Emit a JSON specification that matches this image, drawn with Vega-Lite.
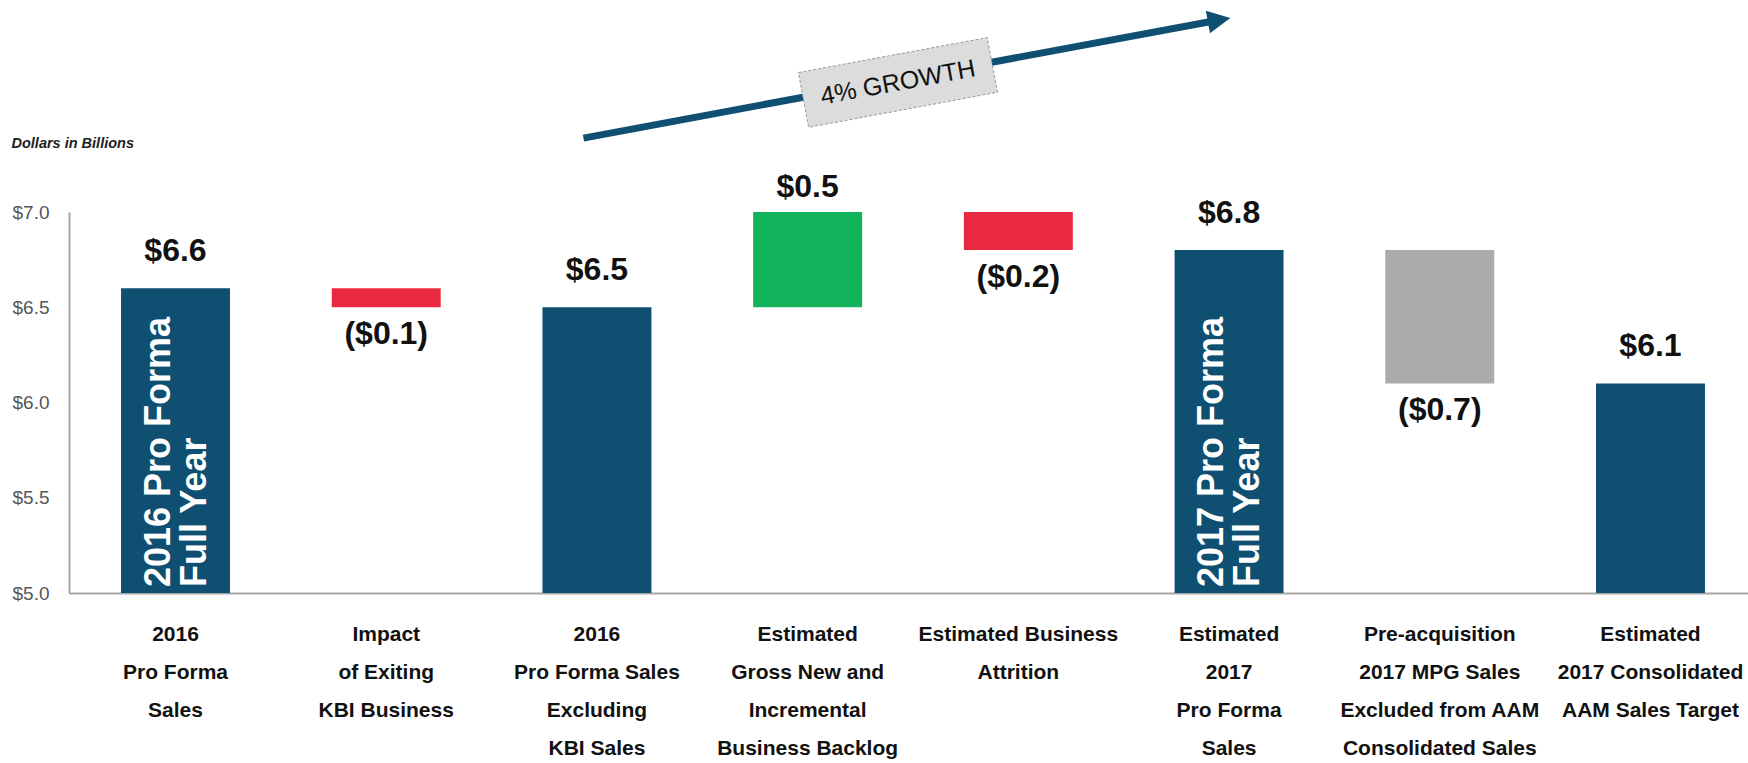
{
  "$schema": "https://vega.github.io/schema/vega-lite/v6.json",
  "width": 1679,
  "height": 381,
  "autosize": {"type": "none"},
  "padding": {"left": 69, "top": 212, "right": 0, "bottom": 170},
  "background": "white",
  "config": {"view": {"stroke": null}},
  "datasets": {
    "bars": [
      {"label": "2016|Pro Forma|Sales", "start": 5, "end": 6.6, "type": "total", "text": "$6.6", "note": ["2016 Pro Forma", "Full Year"]},
      {"label": "Impact|of Exiting|KBI Business", "start": 6.6, "end": 6.5, "type": "decrease", "text": "($0.1)"},
      {"label": "2016|Pro Forma Sales|Excluding|KBI Sales", "start": 5, "end": 6.5, "type": "total", "text": "$6.5"},
      {"label": "Estimated|Gross New and|Incremental|Business Backlog", "start": 6.5, "end": 7.0, "type": "increase", "text": "$0.5"},
      {"label": "Estimated Business|Attrition", "start": 7.0, "end": 6.8, "type": "decrease", "text": "($0.2)"},
      {"label": "Estimated|2017|Pro Forma|Sales", "start": 5, "end": 6.8, "type": "total", "text": "$6.8", "note": ["2017 Pro Forma", "Full Year"]},
      {"label": "Pre-acquisition|2017 MPG Sales|Excluded from AAM|Consolidated Sales", "start": 6.8, "end": 6.1, "type": "excluded", "text": "($0.7)"},
      {"label": "Estimated|2017 Consolidated|AAM Sales Target", "start": 5, "end": 6.1, "type": "total", "text": "$6.1"}
    ],
    "arrow": [
      {"fx": 0.3064, "fy": 7.388},
      {"fx": 0.685, "fy": 8.008}
    ],
    "head": [{"fx": 0.685, "fy": 8.008}],
    "growth": [{"fx": 0.4937, "fy": 7.68, "text": "4% GROWTH"}]
  },
  "layer": [
    {
      "data": {"name": "bars"},
      "layer": [
        {
          "mark": {"type": "bar"},
          "encoding": {
            "x": {
              "field": "label", "type": "nominal", "sort": null,
              "scale": {"paddingInner": 0.483, "paddingOuter": 0.247, "range": [0, 1688]},
              "axis": {
                "title": null, "labelAngle": 0, "ticks": false,
                "labelExpr": "split(datum.label, '|')",
                "labelFont": "Liberation Sans, Arial, sans-serif",
                "labelFontWeight": "bold", "labelFontSize": 21, "labelLineHeight": 38,
                "labelColor": "#111", "labelBaseline": "top", "labelPadding": 30,
                "labelLimit": 400, "labelOverlap": false,
                "domainColor": "#A6A6A6", "domainWidth": 2
              }
            },
            "y": {
              "field": "start", "type": "quantitative",
              "scale": {"domain": [5, 7], "nice": false, "zero": false},
              "axis": {
                "values": [5, 5.5, 6, 6.5, 7], "format": "$.1f", "grid": false, "ticks": false,
                "labelFont": "Liberation Sans, Arial, sans-serif",
                "labelFontSize": 19, "labelColor": "#555", "labelPadding": 20,
                "domainColor": "#A6A6A6", "domainWidth": 2,
                "title": "Dollars in Billions", "titleAngle": 0, "titleAlign": "left",
                "titleBaseline": "middle", "titleX": -58, "titleY": -69,
                "titleFont": "Liberation Sans, Arial, sans-serif",
                "titleFontStyle": "italic", "titleFontWeight": "bold", "titleFontSize": 14.5, "titleColor": "#222"
              }
            },
            "y2": {"field": "end"},
            "color": {
              "field": "type", "type": "nominal", "legend": null,
              "scale": {"domain": ["total", "decrease", "increase", "excluded"], "range": ["#0E4F72", "#E8293F", "#11B45A", "#ABABAB"]}
            }
          }
        },
        {
          "transform": [{"filter": "datum.type == 'total'"}],
          "mark": {"type": "text", "baseline": "bottom", "dy": -20, "font": "Liberation Sans, Arial, sans-serif", "fontWeight": "bold", "fontSize": 32, "color": "#111"},
          "encoding": {
            "x": {"field": "label", "type": "nominal", "sort": null},
            "y": {"field": "end", "type": "quantitative", "scale": {"domain": [5, 7]}},
            "text": {"field": "text"}
          }
        },
        {
          "transform": [{"filter": "datum.type == 'increase'"}],
          "mark": {"type": "text", "baseline": "bottom", "dy": -8, "font": "Liberation Sans, Arial, sans-serif", "fontWeight": "bold", "fontSize": 32, "color": "#111"},
          "encoding": {
            "x": {"field": "label", "type": "nominal", "sort": null},
            "y": {"field": "end", "type": "quantitative", "scale": {"domain": [5, 7]}},
            "text": {"field": "text"}
          }
        },
        {
          "transform": [{"filter": "datum.type == 'decrease' || datum.type == 'excluded'"}],
          "mark": {"type": "text", "baseline": "top", "dy": 12, "font": "Liberation Sans, Arial, sans-serif", "fontWeight": "bold", "fontSize": 32, "color": "#111"},
          "encoding": {
            "x": {"field": "label", "type": "nominal", "sort": null},
            "y": {"field": "end", "type": "quantitative", "scale": {"domain": [5, 7]}},
            "text": {"field": "text"}
          }
        },
        {
          "transform": [{"filter": "isValid(datum.note)"}],
          "mark": {"type": "text", "angle": 270, "align": "left", "baseline": "middle", "dx": 6, "dy": -17, "font": "Liberation Sans, Arial, sans-serif", "fontWeight": "bold", "fontSize": 36, "lineHeight": 36, "color": "white"},
          "encoding": {
            "x": {"field": "label", "type": "nominal", "sort": null},
            "y": {"field": "start", "type": "quantitative", "scale": {"domain": [5, 7]}},
            "text": {"field": "note"}
          }
        }
      ]
    },
    {
      "layer": [
        {
          "data": {"name": "arrow"},
          "mark": {"type": "line", "color": "#0E4F72", "strokeWidth": 7, "strokeCap": "butt", "clip": false},
          "encoding": {
            "x": {"field": "fx", "type": "quantitative", "scale": {"domain": [0, 1]}, "axis": null},
            "y": {"field": "fy", "type": "quantitative", "scale": {"domain": [5, 7]}, "axis": null}
          }
        },
        {
          "data": {"name": "head"},
          "mark": {"type": "point", "shape": "M-1,-1 L1,0 L-1,1 Z", "filled": true, "opacity": 1, "color": "#0E4F72", "size": 520, "angle": 349.5, "clip": false},
          "encoding": {
            "x": {"field": "fx", "type": "quantitative", "scale": {"domain": [0, 1]}, "axis": null},
            "y": {"field": "fy", "type": "quantitative", "scale": {"domain": [5, 7]}, "axis": null}
          }
        },
        {
          "data": {"name": "growth"},
          "mark": {"type": "point", "shape": "M-1,-0.29 L1,-0.29 L1,0.29 L-1,0.29 Z", "filled": true, "opacity": 1, "fill": "#DCDCDC", "stroke": "#999999", "strokeWidth": 1, "strokeDash": [3, 2], "size": 36864, "angle": 349.5, "clip": false},
          "encoding": {
            "x": {"field": "fx", "type": "quantitative", "scale": {"domain": [0, 1]}, "axis": null},
            "y": {"field": "fy", "type": "quantitative", "scale": {"domain": [5, 7]}, "axis": null}
          }
        },
        {
          "data": {"name": "growth"},
          "mark": {"type": "text", "angle": 349.5, "align": "center", "baseline": "middle", "font": "Liberation Sans, Arial, sans-serif", "fontSize": 25, "color": "#111", "clip": false},
          "encoding": {
            "x": {"field": "fx", "type": "quantitative", "scale": {"domain": [0, 1]}, "axis": null},
            "y": {"field": "fy", "type": "quantitative", "scale": {"domain": [5, 7]}, "axis": null},
            "text": {"field": "text"}
          }
        }
      ]
    }
  ],
  "resolve": {"scale": {"x": "independent"}, "axis": {"y": "independent"}}
}
